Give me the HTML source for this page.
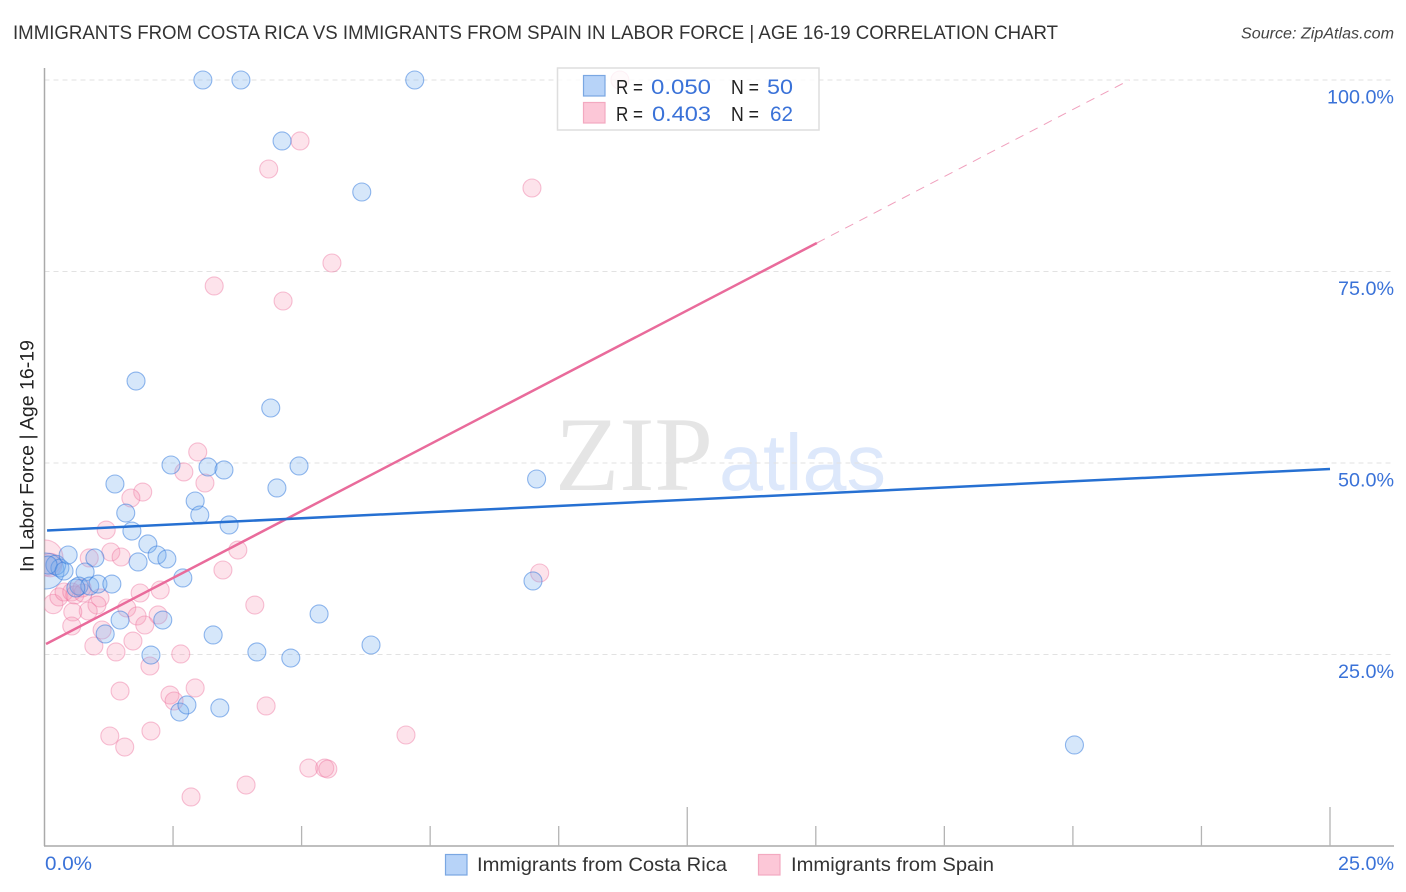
<!DOCTYPE html>
<html lang="en">
<head>
<meta charset="utf-8">
<title>Immigrants from Costa Rica vs Immigrants from Spain in Labor Force | Age 16-19 Correlation Chart</title>
<style>
html,body{margin:0;padding:0;background:#fff;width:1406px;height:892px;overflow:hidden}
svg{display:block;font-family:"Liberation Sans",sans-serif}
</style>
</head>
<body>
<svg id="chart" xmlns="http://www.w3.org/2000/svg" width="1406" height="892" viewBox="0 0 1406 892">
  <defs>
    <clipPath id="plot-clip"><rect x="44.5" y="60" width="1350" height="786"/></clipPath>
  </defs>
  <rect x="0" y="0" width="1406" height="892" fill="#fff"/>
  <text x="13" y="39" font-size="19.5" fill="#333" textLength="1045" lengthAdjust="spacingAndGlyphs">IMMIGRANTS FROM COSTA RICA VS IMMIGRANTS FROM SPAIN IN LABOR FORCE | AGE 16-19 CORRELATION CHART</text>
  <text x="1241" y="38.5" font-size="15.5" font-style="italic" fill="#444" textLength="153" lengthAdjust="spacingAndGlyphs">Source: ZipAtlas.com</text>

  <g>
    <text x="555" y="490" font-family="'Liberation Serif',serif" font-size="106" fill="#e5e5e5" textLength="158" lengthAdjust="spacingAndGlyphs">ZIP</text>
    <text x="719" y="490" font-size="80" fill="#dde8fb" textLength="167" lengthAdjust="spacingAndGlyphs">atlas</text>
  </g>

  <g id="grid"></g>
  <g id="axes"></g>
  <g id="dots" clip-path="url(#plot-clip)"></g>
  <g id="trends" clip-path="url(#plot-clip)"></g>

  <text transform="translate(33.5,456) rotate(-90)" font-size="19" fill="#222" text-anchor="middle" textLength="232" lengthAdjust="spacingAndGlyphs">In Labor Force | Age 16-19</text>

  <g>
    <rect x="557.5" y="68" width="261.5" height="62" fill="#fff" fill-opacity="0.8" stroke="#dedede" stroke-width="1.5"/>
    <rect x="583.5" y="75.5" width="21.5" height="20.5" fill="#b7d3f8" stroke="#7aa7e2" stroke-width="1.2"/>
    <rect x="583.5" y="102.5" width="21.5" height="20.5" fill="#fcc7d7" stroke="#f3a9c0" stroke-width="1.2"/>
    <text x="616" y="94" font-size="20" fill="#222" textLength="27" lengthAdjust="spacingAndGlyphs">R =</text>
    <text x="651" y="94" font-size="21.5" fill="#3a72d8" textLength="60" lengthAdjust="spacingAndGlyphs">0.050</text>
    <text x="731" y="94" font-size="20" fill="#222" textLength="28" lengthAdjust="spacingAndGlyphs">N =</text>
    <text x="767" y="94" font-size="21.5" fill="#3a72d8" textLength="26" lengthAdjust="spacingAndGlyphs">50</text>
    <text x="616" y="121" font-size="20" fill="#222" textLength="27" lengthAdjust="spacingAndGlyphs">R =</text>
    <text x="652" y="121" font-size="21.5" fill="#3a72d8" textLength="59" lengthAdjust="spacingAndGlyphs">0.403</text>
    <text x="731" y="121" font-size="20" fill="#222" textLength="28" lengthAdjust="spacingAndGlyphs">N =</text>
    <text x="770" y="121" font-size="21.5" fill="#3a72d8" textLength="23" lengthAdjust="spacingAndGlyphs">62</text>
  </g>

  <g>
    <rect x="445.5" y="854.5" width="21.5" height="20.5" fill="#b7d3f8" stroke="#7aa7e2" stroke-width="1.2"/>
    <text x="477" y="871" font-size="19.5" fill="#333" textLength="250" lengthAdjust="spacingAndGlyphs">Immigrants from Costa Rica</text>
    <rect x="758.5" y="854.5" width="21.5" height="20.5" fill="#fcc7d7" stroke="#f3a9c0" stroke-width="1.2"/>
    <text x="791" y="871" font-size="19.5" fill="#333" textLength="203" lengthAdjust="spacingAndGlyphs">Immigrants from Spain</text>
  </g>
</svg>
<script>
// ---- chart data (percent units) ----
const xTickValues = [2.5, 5, 7.5, 10, 12.5, 15, 17.5, 20, 22.5, 25];
const xMajorTicks = [12.5, 25];
const xTickLabelValues = [0, 25];
const xTickLabels = ['0.0%', '25.0%'];
const yTickValues = [100, 75, 50, 25];
const yTickLabels = ['100.0%', '75.0%', '50.0%', '25.0%'];

const costaRicaX = [0.03,0.22,0.30,0.07,0.38,0.46,0.98,0.79,0.67,0.88,1.04,1.31,0.61,3.08,3.82,7.20,4.62,6.17,1.78,4.40,1.37,2.46,3.18,3.49,4.95,9.57,2.93,4.52,1.58,3.02,3.59,1.70,2.01,2.19,2.38,1.82,2.69,1.47,2.30,1.18,3.28,5.34,9.50,6.35,4.13,4.79,2.07,2.63,2.77,3.41,20.03];
const costaRicaY = [35.90,36.68,36.29,36.68,35.90,37.99,37.60,35.77,33.94,33.94,34.20,34.20,33.68,100,100,100,92.04,85.38,60.70,57.18,47.26,49.74,49.48,49.09,49.61,47.91,45.04,46.74,43.47,43.21,41.91,41.12,39.43,37.99,37.47,37.08,34.99,29.50,29.50,27.68,27.55,30.29,34.60,26.24,25.33,24.54,24.93,17.49,18.41,18.02,13.19];
const costaRicaWeight = [4,1.2,1,1,1,1,1,1,1,1,1,1,1,1,1,1,1,1,1,1,1,1,1,1,1,1,1,1,1,1,1,1,1,1,1,1,1,1,1,1,1,1,1,1,1,1,1,1,1,1,1];

const spainX = [0.01,0.11,0.17,0.28,0.38,0.53,0.59,0.75,0.73,1.08,1.02,0.85,0.55,0.53,11.19,4.97,4.36,9.48,5.59,3.30,4.64,2.98,1.91,1.68,2.71,3.12,1.20,1.29,1.49,3.76,0.87,3.47,9.63,2.25,1.86,1.60,1.80,2.21,4.09,1.95,1.12,1.72,0.96,1.39,2.65,2.05,1.47,2.44,2.93,2.52,4.31,2.07,1.27,1.56,7.03,2.85,3.92,5.14,5.45,5.51];
const spainY = [37.60,36.68,31.59,32.51,33.16,33.16,32.77,33.03,33.68,32.38,31.46,30.68,30.55,28.72,100,92.04,88.38,85.90,76.11,73.11,71.15,51.44,46.21,45.43,48.83,47.39,41.25,38.38,37.73,38.64,37.60,36.03,35.64,33.42,33.03,31.07,30.03,30.16,31.46,28.85,28.20,26.76,26.11,25.33,25.07,23.50,20.23,19.71,20.63,18.93,18.28,15.01,14.36,12.92,14.49,6.40,7.96,10.18,10.18,10.05];
const spainWeight = [4,1.7,1.15,1,1,1,1,1,1,1,1,1,1,1,1,1,1,1,1,1,1,1,1,1,1,1,1,1,1,1,1,1,1,1,1,1,1,1,1,1,1,1,1,1,1,1,1,1,1,1,1,1,1,1,1,1,1,1,1,1];

const costaRicaTrendX = [0.05, 25];
const costaRicaTrendY = [41.19, 49.22];
const spainTrendX = [0.03, 15.02];
const spainTrendY = [26.37, 78.72];
const spainTrendExtX = [15.02, 21.10];
const spainTrendExtY = [78.72, 100];

// ---- axis functions ----
const NS = 'http://www.w3.org/2000/svg';
const xScale = v => 44.5 + v * (1330 - 44.5) / 25;
const yScale = v => 846 - v * (846 - 80) / 100;
const BASE_RADIUS = 9;

function mk(tag, attrs, parent) {
  const el = document.createElementNS(NS, tag);
  for (const k in attrs) el.setAttribute(k, attrs[k]);
  parent.appendChild(el);
  return el;
}

const grid = document.getElementById('grid');
const axes = document.getElementById('axes');
const dots = document.getElementById('dots');
const trends = document.getElementById('trends');

yTickValues.forEach((v, i) => {
  const line = mk('line', {x1: 44.5, x2: 1394, y1: yScale(v), y2: yScale(v), stroke: '#e2e2e2', 'stroke-width': 1, 'stroke-dasharray': '5 4'}, grid);
  
  
  const lab = mk('text', {x: 1394, y: yScale(v) + 23.5, 'font-size': 19, fill: '#3a72d8', 'text-anchor': 'end', textLength: yTickLabels[i].length > 5 ? 67 : 56, lengthAdjust: 'spacingAndGlyphs'}, axes);
  lab.textContent = yTickLabels[i];
  
  
});

const yAxis = mk('line', {x1: 44.5, x2: 44.5, y1: 68, y2: 846, stroke: '#aaa', 'stroke-width': 1.5}, axes);


const xAxis = mk('line', {x1: 44, x2: 1394, y1: 846, y2: 846, stroke: '#aaa', 'stroke-width': 1.5}, axes);



xTickValues.forEach(v => {
  const top = xMajorTicks.includes(v) ? 807 : 826;
  const tick = mk('line', {x1: xScale(v), x2: xScale(v), y1: top, y2: 846, stroke: '#b4b4b4', 'stroke-width': 1.3}, axes);
  
  
});

xTickLabelValues.forEach((v, i) => {
  const attrs = i === 0
    ? {x: xScale(v) + 0.5, 'text-anchor': 'start', textLength: 47}
    : {x: 1394, 'text-anchor': 'end', textLength: 56};
  const lab = mk('text', Object.assign({y: 870, 'font-size': 19, fill: '#3a72d8', lengthAdjust: 'spacingAndGlyphs'}, attrs), axes);
  lab.textContent = xTickLabels[i];
  
  
});

function drawSeries(xs, ys, ws, fill, stroke, name) {
  xs.forEach((x, i) => {
    const c = mk('circle', {cx: xScale(x), cy: yScale(ys[i]), r: BASE_RADIUS * Math.sqrt(ws[i]), fill: fill, stroke: stroke, 'stroke-width': 1.1}, dots);
    
    
  });
}
drawSeries(spainX, spainY, spainWeight, 'rgba(247,150,180,0.27)', 'rgba(236,110,155,0.42)', 'point-spain');
drawSeries(costaRicaX, costaRicaY, costaRicaWeight, 'rgba(120,175,240,0.3)', 'rgba(50,120,220,0.52)', 'point-costa-rica');

function drawLine(xs, ys, color, width, dash, name) {
  const l = mk('line', {x1: xScale(xs[0]), y1: yScale(ys[0]), x2: xScale(xs[1]), y2: yScale(ys[1]), stroke: color, 'stroke-width': width}, trends);
  if (dash) l.setAttribute('stroke-dasharray', dash);
  
  
}
drawLine(spainTrendExtX, spainTrendExtY, '#f0a0bd', 1, '9 7', 'trend-line-spain-extension');
drawLine(spainTrendX, spainTrendY, '#e96b9b', 2.5, null, 'trend-line-spain');
drawLine(costaRicaTrendX, costaRicaTrendY, '#2670d2', 2.5, null, 'trend-line-costa-rica');
</script>
</body>
</html>
